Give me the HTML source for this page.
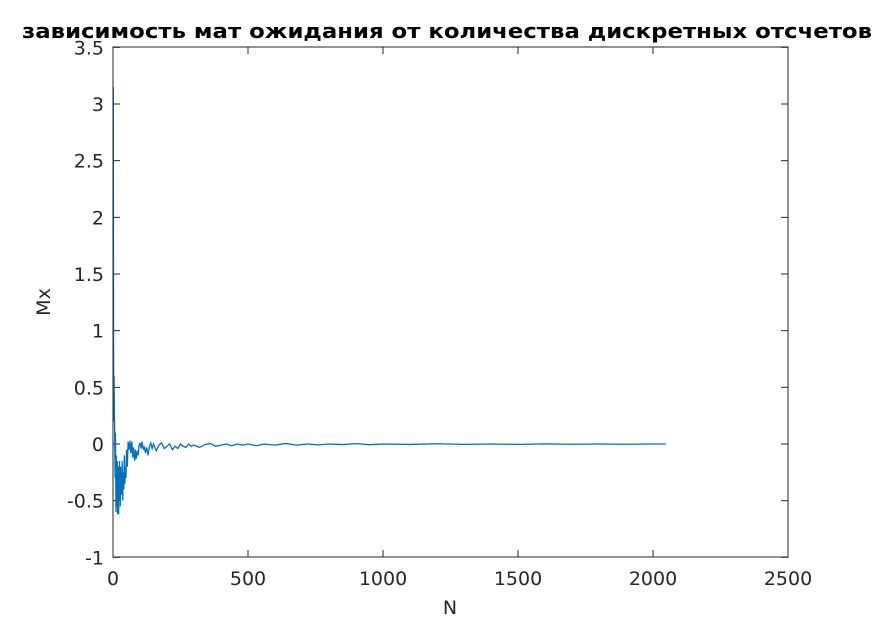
<!DOCTYPE html>
<html><head><meta charset="utf-8"><style>
body{margin:0;background:#fff;overflow:hidden;}
svg{display:block;font-family:"DejaVu Sans","Liberation Sans",sans-serif;}
</style></head><body>
<svg id="chart" width="872" height="627">
<rect width="872" height="627" fill="#fff"/>
<text x="22" y="38" font-size="20" font-weight="bold" textLength="850" lengthAdjust="spacingAndGlyphs">зависимость мат ожидания от количества дискретных отсчетов</text>
<g id="grid"></g>
<g id="plot"></g>
<rect x="113" y="47" width="675" height="510" fill="none" stroke="#262626" stroke-width="1"/>
<text x="450" y="614" text-anchor="middle" font-size="19" fill="#262626">N</text>
<text transform="translate(50,302) rotate(-90)" text-anchor="middle" font-size="19" fill="#262626">Mx</text>
</svg>
<script>
const xTicks=[0,500,1000,1500,2000,2500];
const yTicks=[-1,-0.5,0,0.5,1,1.5,2,2.5,3,3.5];
const nVals=[1,2,3,4,5,6,7,8,9,10,11,12,13,14,15,16,17,18,19,20,21,22,23,24,25,26,27,28,29,30,32,34,36,38,40,42,44,46,48,50,53,56,60,63,66,70,73,76,80,83,86,90,93,96,100,104,108,112,116,120,125,130,135,140,145,150,160,170,180,190,200,210,220,230,240,250,260,270,280,290,300,320,340,360,380,400,420,440,460,480,500,530,560,600,640,680,720,760,800,850,900,950,1000,1100,1200,1300,1400,1500,1600,1700,1800,1900,2000,2048];
const mxVals=[3.15,0.95,0.2,0.6,0.3,0.15,-0.1,-0.3,0.1,-0.2,-0.6,-0.1,-0.45,-0.2,-0.55,-0.15,-0.62,-0.3,-0.5,-0.2,-0.62,-0.25,-0.45,-0.15,-0.5,-0.3,-0.55,-0.2,-0.4,-0.25,-0.45,-0.15,-0.5,-0.25,-0.4,-0.1,-0.35,-0.2,-0.3,-0.05,-0.2,0.02,-0.05,0.03,-0.08,0.02,-0.12,-0.03,-0.15,-0.05,-0.13,-0.06,-0.1,-0.02,0.01,-0.04,0.02,-0.05,-0.02,-0.08,-0.03,-0.1,-0.02,0.01,-0.04,0.0,-0.06,-0.01,0.01,-0.04,-0.02,0.0,-0.05,-0.02,-0.04,0.0,-0.02,-0.03,0.0,-0.02,-0.01,-0.03,-0.005,0.005,-0.02,-0.01,0.0,-0.015,0.0,-0.01,0.0,-0.015,0.0,-0.01,0.005,-0.01,0.0,-0.008,0.0,-0.005,0.003,-0.006,0.0,-0.004,0.002,-0.003,0.0,-0.003,0.001,-0.002,0.0,-0.002,0.0,0.0];
const X=v=>113+v/2500*675;
const Y=v=>444-v*113.33;
const ns="http://www.w3.org/2000/svg";
const grid=document.getElementById('grid'),plot=document.getElementById('plot');
xTicks.forEach(t=>{
 const l=document.createElementNS(ns,'line');
 
 
 l.setAttribute('x1',X(t));l.setAttribute('x2',X(t));l.setAttribute('y1',557);l.setAttribute('y2',550);l.setAttribute('stroke','#262626');
 grid.appendChild(l);
 const l2=document.createElementNS(ns,'line');
 
 
 l2.setAttribute('x1',X(t));l2.setAttribute('x2',X(t));l2.setAttribute('y1',47);l2.setAttribute('y2',54);l2.setAttribute('stroke','#262626');
 grid.appendChild(l2);
 const tx=document.createElementNS(ns,'text');
 
 
 tx.setAttribute('x',X(t));tx.setAttribute('y',585);tx.setAttribute('text-anchor','middle');tx.setAttribute('font-size','19');tx.setAttribute('fill','#262626');
 tx.textContent=t;grid.appendChild(tx);
});
yTicks.forEach(t=>{
 const l=document.createElementNS(ns,'line');
 
 
 l.setAttribute('x1',113);l.setAttribute('x2',120);l.setAttribute('y1',Y(t));l.setAttribute('y2',Y(t));l.setAttribute('stroke','#262626');
 grid.appendChild(l);
 const l2=document.createElementNS(ns,'line');
 
 
 l2.setAttribute('x1',781);l2.setAttribute('x2',788);l2.setAttribute('y1',Y(t));l2.setAttribute('y2',Y(t));l2.setAttribute('stroke','#262626');
 grid.appendChild(l2);
 const tx=document.createElementNS(ns,'text');
 
 
 tx.setAttribute('x',104);tx.setAttribute('y',Y(t)+7);tx.setAttribute('text-anchor','end');tx.setAttribute('font-size','19');tx.setAttribute('fill','#262626');
 tx.textContent=t;grid.appendChild(tx);
});
const p=document.createElementNS(ns,'polyline');


p.setAttribute('points',nVals.map((n,i)=>X(n).toFixed(2)+','+Y(mxVals[i]).toFixed(2)).join(' '));
p.setAttribute('fill','none');p.setAttribute('stroke','#0072bd');p.setAttribute('stroke-width','1.3');
plot.appendChild(p);
</script>
</body></html>
